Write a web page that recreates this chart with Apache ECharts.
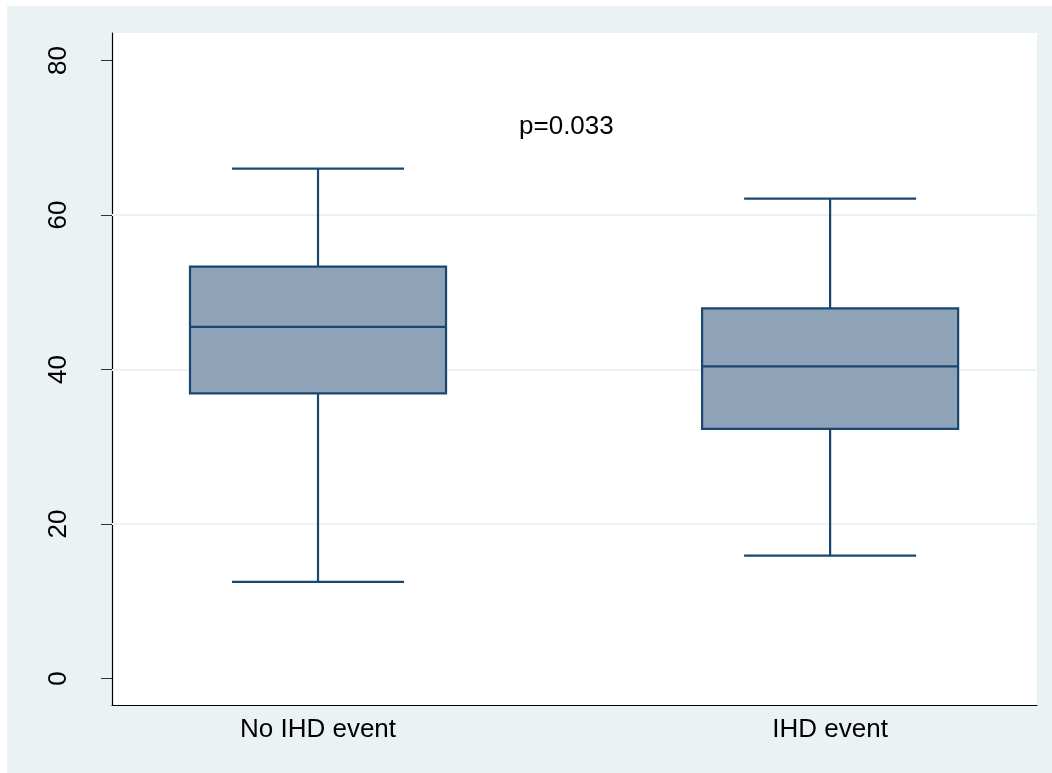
<!DOCTYPE html>
<html>
<head>
<meta charset="utf-8">
<script src="https://cdn.jsdelivr.net/npm/echarts@6/dist/echarts.min.js"></script>
<style>
  html, body { margin: 0; padding: 0; background: #eaf2f3; overflow: hidden; }
  #chart { width: 1052px; height: 773px; }
</style>
</head>
<body>
<div id="chart"></div>
<script>
// ---- data ----
const categories = ['No IHD event', 'IHD event'];
const positions = [1, 2];
const lowerWhisker = [12.5, 15.9];
const q1 = [36.9, 32.3];
const median = [45.5, 40.4];
const q3 = [53.3, 47.9];
const upperWhisker = [66.0, 62.1];
const yTicks = [0, 20, 40, 60, 80];
const gridValues = [20, 40, 60];
const annotationText = 'p=0.033';
const annotationPos = [1.485, 71.4];

// ---- styling ----
const STROKE = '#1a476f';
const FILL = '#8ea3b8';
const BG = '#eaf2f3';
const FONT = 'Liberation Sans, Arial, sans-serif';

const boxData = positions.map((p, i) => [p, lowerWhisker[i], q1[i], median[i], q3[i], upperWhisker[i]]);

function renderBox(params, api) {
  const x = api.value(0);
  const lo = api.coord([x, api.value(1)]);
  const b1 = api.coord([x, api.value(2)]);
  const md = api.coord([x, api.value(3)]);
  const b3 = api.coord([x, api.value(4)]);
  const hi = api.coord([x, api.value(5)]);
  const boxW = api.size([0.5, 0])[0];
  const capW = api.size([0.336, 0])[0];
  const cx = lo[0];
  const ls = { stroke: STROKE, lineWidth: 2.2 };
  return {
    type: 'group',
    children: [
      { type: 'line', shape: { x1: cx, y1: hi[1], x2: cx, y2: b3[1] }, style: ls },
      { type: 'line', shape: { x1: cx, y1: b1[1], x2: cx, y2: lo[1] }, style: ls },
      { type: 'line', shape: { x1: cx - capW / 2, y1: hi[1], x2: cx + capW / 2, y2: hi[1] }, style: ls },
      { type: 'line', shape: { x1: cx - capW / 2, y1: lo[1], x2: cx + capW / 2, y2: lo[1] }, style: ls },
      { type: 'rect', shape: { x: cx - boxW / 2, y: b3[1], width: boxW, height: b1[1] - b3[1] },
        style: { fill: FILL, stroke: STROKE, lineWidth: 2.2 } },
      { type: 'line', shape: { x1: cx - boxW / 2, y1: md[1], x2: cx + boxW / 2, y2: md[1] }, style: ls }
    ]
  };
}

const chart = echarts.init(document.getElementById('chart'), null, { renderer: 'canvas' });
chart.setOption({
  backgroundColor: BG,
  animation: false,
  graphic: [
    { type: 'rect', left: 0, top: 0, z: -10, silent: true,
      shape: { width: 1052, height: 6 }, style: { fill: '#ffffff' } },
    { type: 'rect', left: 0, top: 0, z: -10, silent: true,
      shape: { width: 7, height: 773 }, style: { fill: '#ffffff' } }
  ],
  grid: {
    left: 112, top: 33, right: 15, bottom: 68,
    show: true, backgroundColor: '#ffffff', borderWidth: 0
  },
  xAxis: {
    type: 'value',
    min: 0.5977, max: 2.404,
    axisLine: { show: true, onZero: false, lineStyle: { color: '#000000', width: 1.2 } },
    axisTick: { show: false },
    splitLine: { show: false },
    axisLabel: {
      customValues: positions,
      formatter: (v) => categories[positions.indexOf(Math.round(v))] || '',
      fontFamily: FONT, fontSize: 26, color: '#000000', margin: 12
    }
  },
  yAxis: {
    type: 'value',
    min: -3.44, max: 83.55,
    axisLine: { show: true, onZero: false, lineStyle: { color: '#000000', width: 1.2 } },
    axisTick: { show: true, customValues: yTicks, length: 11, lineStyle: { color: '#333333', width: 1 } },
    splitLine: { show: false },
    axisLabel: {
      customValues: yTicks,
      rotate: 90,
      fontFamily: FONT, fontSize: 26, color: '#000000', margin: 40
    }
  },
  series: [
    {
      type: 'line',
      data: [],
      silent: true,
      markLine: {
        silent: true, symbol: 'none', label: { show: false },
        lineStyle: { color: BG, width: 2, type: 'solid' },
        data: gridValues.map(v => ({ yAxis: v }))
      },
      z: 1
    },
    {
      type: 'custom',
      renderItem: renderBox,
      data: boxData,
      encode: { x: 0, y: [1, 2, 3, 4, 5] },
      z: 5
    },
    {
      type: 'scatter',
      symbolSize: 0,
      itemStyle: { opacity: 1 },
      data: [annotationPos],
      label: {
        show: true, position: 'inside', formatter: annotationText, opacity: 1,
        fontFamily: FONT, fontSize: 26, color: '#000000', textBorderWidth: 0
      },
      z: 6
    }
  ]
});
</script>
</body>
</html>
